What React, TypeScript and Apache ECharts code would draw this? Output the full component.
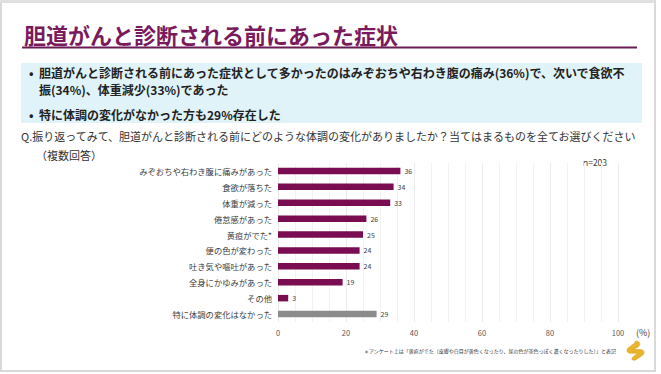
import React, { useEffect, useRef } from "react";
import * as echarts from "echarts";

const categories = [
  "みぞおちや右わき腹に痛みがあった",
  "食欲が落ちた",
  "体重が減った",
  "倦怠感があった",
  "黄疸がでた*",
  "便の色が変わった",
  "吐き気や嘔吐があった",
  "全身にかゆみがあった",
  "その他",
  "特に体調の変化はなかった",
];
const values = [36, 34, 33, 26, 25, 24, 24, 19, 3, 29];
const highlightGray = ["特に体調の変化はなかった"];

const titleText = "胆道がんと診断される前にあった症状";
const bullet1a = "胆道がんと診断される前にあった症状として多かったのはみぞおちや右わき腹の痛み(36%)で、次いで食欲不";
const bullet1b = "振(34%)、体重減少(33%)であった";
const bullet2 = "特に体調の変化がなかった方も29%存在した";
const question1 = "Q.振り返ってみて、胆道がんと診断される前にどのような体調の変化がありましたか？当てはまるものを全てお選びください";
const question2 = "（複数回答）";
const sampleText = "n=203";
const unitText = "(%)";
const footnote = "＊アンケート上は「黄疸がでた（皮膚や白目が黄色くなったり、尿の色が茶色っぽく濃くなったりした）」と表記";

const FONT = "'Noto Sans CJK JP', 'Noto Sans', sans-serif";
const PURPLE = "#7a0d52";
const GRAY = "#8c8c8c";

let registered = false;
function registerLogo() {
  if (registered) return;
  registered = true;
  echarts.graphic.registerShape(
    "logo",
    echarts.graphic.extendPath(
      "M 9 0 C 13 0 15 3 12 6 L 7 9 L 15 9 C 19 10 19 14 15 16 L 9 20 C 6 21 4 19 6 17 L 11 13 L 3 13 C -1 12 -1 8 3 6 L 8 2 Z",
      {}
    )
  );
}

export default function App() {
  const ref = useRef<HTMLDivElement>(null);
  useEffect(() => {
    if (!ref.current) return;
    registerLogo();
    const chart = echarts.init(ref.current, undefined, { renderer: "svg" });
    const barData = values.map((v, i) => ({
      value: v,
      itemStyle: { color: highlightGray.includes(categories[i]) ? GRAY : PURPLE },
    }));
    chart.setOption({
      animation: false,
      backgroundColor: "#ffffff",
      grid: { left: 278, width: 340, top: 163, height: 159, containLabel: false },
      xAxis: {
        type: "value",
        min: 0,
        max: 100,
        interval: 20,
        axisLine: { show: false },
        axisTick: { show: false },
        axisLabel: { fontSize: 7.5, color: "#595959", margin: 7, fontFamily: FONT },
        splitLine: { show: true, lineStyle: { color: "#ececec", width: 1 } },
        minorSplitLine: { show: true, lineStyle: { color: "#f2f2f2", width: 1 } },
        minorTick: { show: false, splitNumber: 4 },
      },
      yAxis: {
        type: "category",
        data: categories,
        inverse: true,
        axisLine: { show: false },
        axisTick: { show: false },
        axisLabel: { fontSize: 8.3, color: "#404040", margin: 6, fontFamily: FONT },
      },
      series: [
        {
          type: "bar",
          data: barData,
          barWidth: 6.5,
          label: {
            show: true,
            position: "right",
            distance: 4,
            fontSize: 7,
            color: "#404040",
            fontFamily: FONT,
          },
        },
      ],
      graphic: [
        {
          type: "rect",
          silent: true,
          z: -10,
          shape: { x: 1, y: 1, width: 654, height: 370 },
          style: { fill: "none", stroke: "#d9d9d9", lineWidth: 2 },
        },
        {
          type: "line",
          shape: { x1: 0, y1: 1.5, x2: 655, y2: 1.5 },
          style: { stroke: "#e0e0e0", lineWidth: 3 },
        },
        {
          type: "text",
          x: 24,
          y: 34,
          style: {
            text: titleText,
            font: `bold 22px ${FONT}`,
            fill: "#7a1a5c",
            textVerticalAlign: "middle",
          },
        },
        {
          type: "line",
          shape: { x1: 22, y1: 47.5, x2: 637, y2: 47.5 },
          style: { stroke: "#6b1a55", lineWidth: 2 },
        },
        {
          type: "rect",
          z: -5,
          shape: { x: 21, y: 63, width: 621, height: 60 },
          style: { fill: "#e0f3f8" },
        },
        {
          type: "text",
          x: 29,
          y: 72,
          style: { text: "•", font: `bold 12px ${FONT}`, fill: "#222", textVerticalAlign: "middle" },
        },
        {
          type: "text",
          x: 39,
          y: 72,
          style: { text: bullet1a, font: `bold 12px ${FONT}`, fill: "#222", textVerticalAlign: "middle" },
        },
        {
          type: "text",
          x: 39,
          y: 89,
          style: { text: bullet1b, font: `bold 12px ${FONT}`, fill: "#222", textVerticalAlign: "middle" },
        },
        {
          type: "text",
          x: 29,
          y: 114,
          style: { text: "•", font: `bold 12px ${FONT}`, fill: "#222", textVerticalAlign: "middle" },
        },
        {
          type: "text",
          x: 39,
          y: 114,
          style: { text: bullet2, font: `bold 12px ${FONT}`, fill: "#222", textVerticalAlign: "middle" },
        },
        {
          type: "text",
          x: 21,
          y: 136,
          style: { text: question1, font: `11px ${FONT}`, fill: "#333", textVerticalAlign: "middle" },
        },
        {
          type: "text",
          x: 36,
          y: 155,
          style: { text: question2, font: `11px ${FONT}`, fill: "#333", textVerticalAlign: "middle" },
        },
        {
          type: "text",
          x: 583,
          y: 162,
          style: { text: sampleText, font: `8.5px ${FONT}`, fill: "#404040", textVerticalAlign: "middle" },
        },
        {
          type: "text",
          x: 636,
          y: 332,
          style: { text: unitText, font: `9px ${FONT}`, fill: "#404040", textVerticalAlign: "middle" },
        },
        {
          type: "text",
          x: 616,
          y: 350,
          style: { text: footnote, font: `5px ${FONT}`, fill: "#333", textVerticalAlign: "middle", textAlign: "right" },
        },
        {
          type: "logo",
          x: 627,
          y: 341,
          scaleX: 0.95,
          scaleY: 0.95,
          style: { fill: "#eab42c", stroke: "#d99a10", lineWidth: 0.5 },
        },
      ],
    });
    return () => chart.dispose();
  }, []);
  return (
    <div
      ref={ref}
      style={{ position: "fixed", left: 0, top: 0, width: 661, height: 374, background: "#fff" }}
    />
  );
}
